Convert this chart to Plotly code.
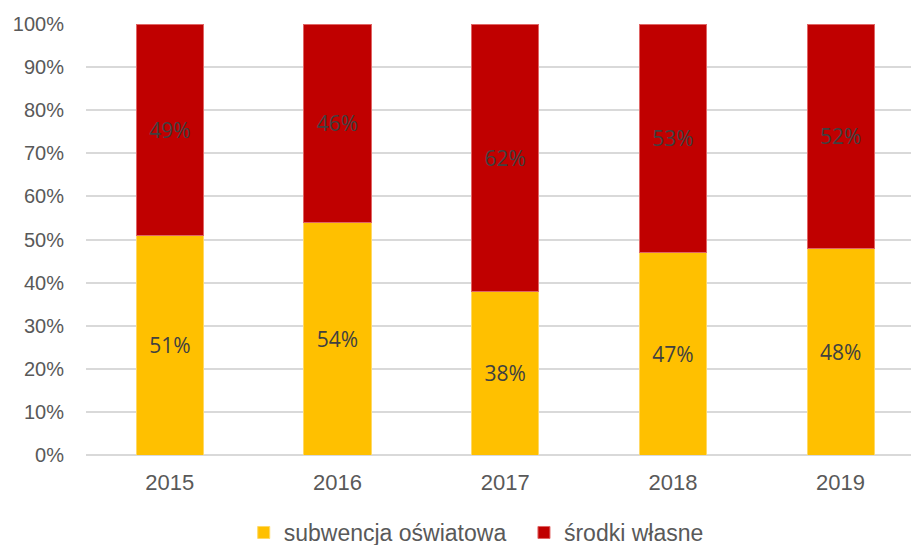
import plotly.graph_objects as go

years = ["2015", "2016", "2017", "2018", "2019"]
subwencja = [51, 54, 38, 47, 48]
srodki = [49, 46, 62, 53, 52]
series_names = ["subwencja oświatowa", "środki własne"]

label_font = dict(family="Open Sans", size=21, color="#404040")

fig = go.Figure()
fig.add_trace(go.Bar(
    x=years, y=subwencja, name=series_names[0] + "\u00a0\u00a0",
    marker=dict(color="#FFC000", line=dict(color="#FFD966", width=1)),
    text=[f"{v}%" for v in subwencja], textposition="inside",
    insidetextanchor="middle", textfont=label_font,
    hoverinfo="skip",
))
fig.add_trace(go.Bar(
    x=years, y=srodki, name=series_names[1],
    marker=dict(color="#C00000", line=dict(color="#E06666", width=1)),
    text=[f"{v}%" for v in srodki], textposition="inside",
    insidetextanchor="middle", textfont=label_font,
    hoverinfo="skip",
))

fig.update_layout(
    barmode="stack",
    bargap=0.6,
    width=911, height=545,
    margin=dict(l=86, r=0, t=24, b=90, autoexpand=False),
    paper_bgcolor="white", plot_bgcolor="white",
    font=dict(family="Liberation Sans, Arial", size=20, color="#595959"),
    showlegend=True,
    legend=dict(orientation="h", x=0.473, xanchor="center", y=-0.13, yanchor="top",
                font=dict(size=23, color="#595959"), traceorder="normal",
                itemwidth=30),
    uniformtext=dict(mode="show", minsize=10),
)
fig.update_xaxes(range=[-0.5, 4.42], showgrid=False, showline=False, ticks="",
                 automargin=False, ticklabelstandoff=12,
                 tickfont=dict(size=22, color="#595959"))
fig.update_yaxes(range=[0, 100], dtick=10, ticksuffix="%", showgrid=True,
                 gridcolor="#D9D9D9", gridwidth=1.5, zeroline=True,
                 zerolinecolor="#D9D9D9", zerolinewidth=1.5, automargin=False,
                 ticks="", ticklabelstandoff=21,
                 tickfont=dict(size=20, color="#595959"))

fig.write_html("out.html", config={"displayModeBar": False},
               post_script="document.body.style.margin='0';")
